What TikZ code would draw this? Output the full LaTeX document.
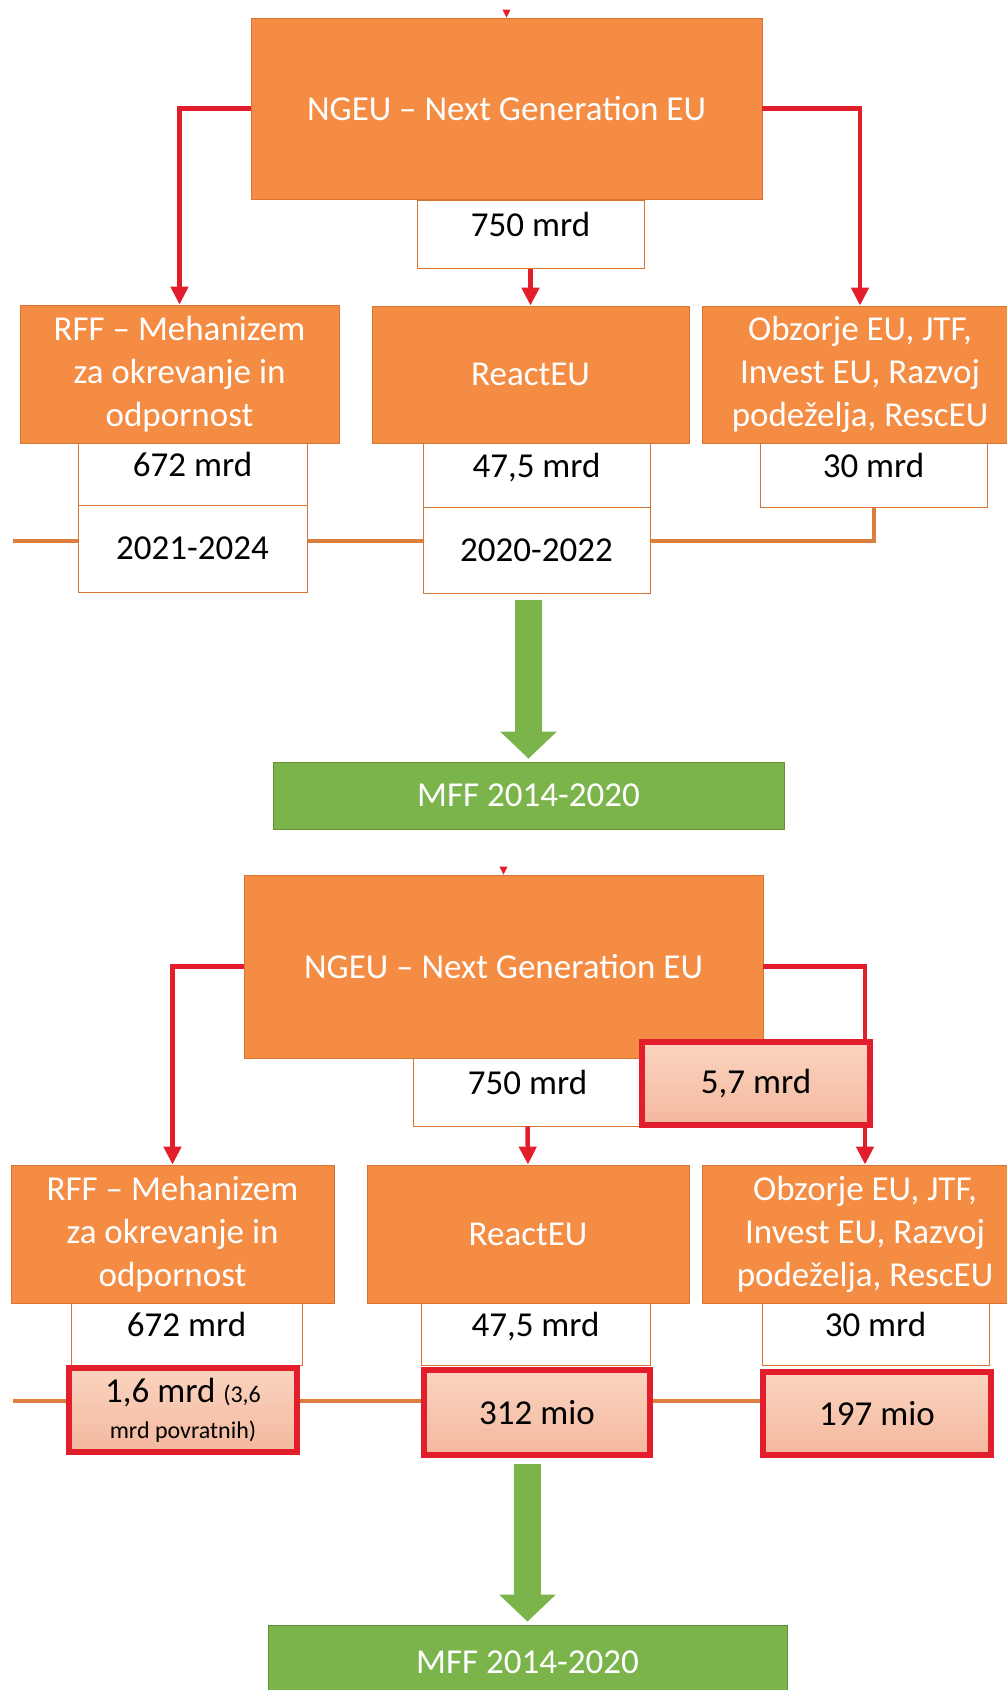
\documentclass[tikz,border=0pt]{standalone}
\usepackage{fontspec}
\setmainfont{Carlito}
\usetikzlibrary{arrows.meta}

\definecolor{boxorange}{RGB}{244,140,68}
\definecolor{edgeorange}{RGB}{214,116,52}
\definecolor{arrowred}{RGB}{226,30,44}
\definecolor{boxgreen}{RGB}{124,180,76}
\definecolor{pinktop}{RGB}{250,212,192}
\definecolor{pinkbot}{RGB}{244,184,158}

\begin{document}
\begin{tikzpicture}[x=1pt, y=-1pt,
  obox/.style={draw=edgeorange, line width=0.8pt, fill=boxorange, text=white, align=center, inner sep=0pt, font=\fontsize{35}{43}\selectfont},
  wbox/.style={draw=edgeorange, line width=1pt, fill=white, align=center, inner sep=0pt, font=\fontsize{35}{43}\selectfont},
  amtbox/.style={wbox, text height=24pt, text depth=20pt},
  rbox/.style={draw=arrowred, line width=6pt, top color=pinktop, bottom color=pinkbot, align=center, inner sep=0pt, font=\fontsize{35}{34}\selectfont},
  gbox/.style={draw=boxgreen!80!black, line width=0.8pt, fill=boxgreen, text=white, inner sep=0pt, font=\fontsize{35}{43}\selectfont},
  rarrow/.style={draw=arrowred, line width=4.5pt, -{Triangle[length=18pt,width=17pt]}},
  oline/.style={draw=boxorange!90!black, line width=4pt},
  garrow/.style={draw=boxgreen, line width=27pt, -{Triangle[length=27pt,width=55pt]}},
]

\useasboundingbox (0,0) rectangle (1007,1690); %% page

%% upper diagram
\node[obox, minimum width=511pt, minimum height=181pt] (ngeuA) at (506.5,108.5) {NGEU -- Next Generation EU};
\node[amtbox, minimum width=227pt, minimum height=68pt] (amtA) at (530.5,234) {750 mrd};

\node[obox, minimum width=319pt, minimum height=138pt] (rffA) at (179.5,374) {RFF -- Mehanizem\\za okrevanje in\\odpornost};
\node[obox, minimum width=317pt, minimum height=137pt] (reactA) at (530.5,374.5) {ReactEU};
\node[obox, minimum width=316pt, minimum height=137pt] (obzA) at (860,374.5) {Obzorje EU, JTF,\\Invest EU, Razvoj\\podeželja, RescEU};

\node[amtbox, minimum width=229pt, minimum height=62pt] (rffAmtA) at (192.5,474) {672 mrd};
\node[wbox, minimum width=229pt, minimum height=87pt] (rffYrA) at (192.5,548.5) {2021-2024};
\node[amtbox, minimum width=227pt, minimum height=64pt] (reactAmtA) at (536.5,475) {47,5 mrd};
\node[wbox, minimum width=227pt, minimum height=86pt] (reactYrA) at (536.5,550) {2020-2022};
\node[amtbox, minimum width=227pt, minimum height=64pt] (obzAmtA) at (873.5,475) {30 mrd};

\node[gbox, minimum width=511pt, minimum height=67pt] (mffA) at (528.5,795.5) {MFF 2014-2020};

\fill[arrowred] (ngeuA.north) -- ++(-4,-8) -- ++(8,0) -- cycle;
\draw[rarrow] (ngeuA.west) -| (rffA.north);
\draw[rarrow] (amtA.south) -- (reactA.north);
\draw[rarrow] (ngeuA.east) -| (obzA.north);

\coordinate (leftA) at (13,541);
\draw[oline] (leftA) -- (leftA -| rffYrA.west);
\draw[oline] (rffYrA.east |- leftA) -- (reactYrA.west |- leftA);
\draw[oline] (reactYrA.east |- leftA) -| (obzAmtA.south);

\draw[garrow, shorten <=6pt, shorten >=3pt] (reactYrA.south -| mffA.north) -- (mffA.north);

%% lower diagram
\node[obox, minimum width=519pt, minimum height=183pt] (ngeuB) at (503.5,966.5) {NGEU -- Next Generation EU};
\node[amtbox, minimum width=229pt, minimum height=68pt] (amtB) at (527.5,1092) {750 mrd};

\node[obox, minimum width=323pt, minimum height=138pt] (rffB) at (172.5,1234) {RFF -- Mehanizem\\za okrevanje in\\odpornost};
\node[obox, minimum width=322pt, minimum height=138pt] (reactB) at (528,1234) {ReactEU};
\node[obox, minimum width=326pt, minimum height=138pt] (obzB) at (865,1234) {Obzorje EU, JTF,\\Invest EU, Razvoj\\podeželja, RescEU};

\node[amtbox, minimum width=231pt, minimum height=62pt] (rffAmtB) at (186.5,1334) {672 mrd};
\node[amtbox, minimum width=229pt, minimum height=62pt] (reactAmtB) at (535.5,1334) {47,5 mrd};
\node[amtbox, minimum width=227pt, minimum height=62pt] (obzAmtB) at (875.5,1334) {30 mrd};

\fill[arrowred] (ngeuB.north) -- ++(-4,-8) -- ++(8,0) -- cycle;
\draw[rarrow] (ngeuB.west) -| (rffB.north);
\draw[rarrow] (amtB.south) -- (reactB.north);
\draw[rarrow] (ngeuB.east) -| (obzB.north);

\node[rbox, minimum width=228pt, minimum height=83pt] (extraB) at (756,1083.5) {5,7 mrd};
\node[rbox, minimum width=228pt, minimum height=84pt] (rffRedB) at (183,1410) {1,6 mrd {\fontsize{24}{30}\selectfont(3,6}\\[2pt]{\fontsize{24}{30}\selectfont mrd povratnih)}};
\node[rbox, minimum width=226pt, minimum height=85pt] (reactRedB) at (537,1412.5) {312 mio};
\node[rbox, minimum width=228pt, minimum height=83pt] (obzRedB) at (877,1413.5) {197 mio};

\node[gbox, minimum width=519pt, minimum height=75pt] (mffB) at (527.5,1662.5) {MFF 2014-2020};

\coordinate (leftB) at (13,1401);
\draw[oline] (leftB) -- (leftB -| rffRedB.west);
\draw[oline] (rffRedB.east |- leftB) -- (reactRedB.west |- leftB);
\draw[oline] (reactRedB.east |- leftB) -- (obzRedB.west |- leftB);

\draw[garrow, shorten <=6pt, shorten >=3pt] (reactRedB.south -| mffB.north) -- (mffB.north);

\end{tikzpicture}
\end{document}
